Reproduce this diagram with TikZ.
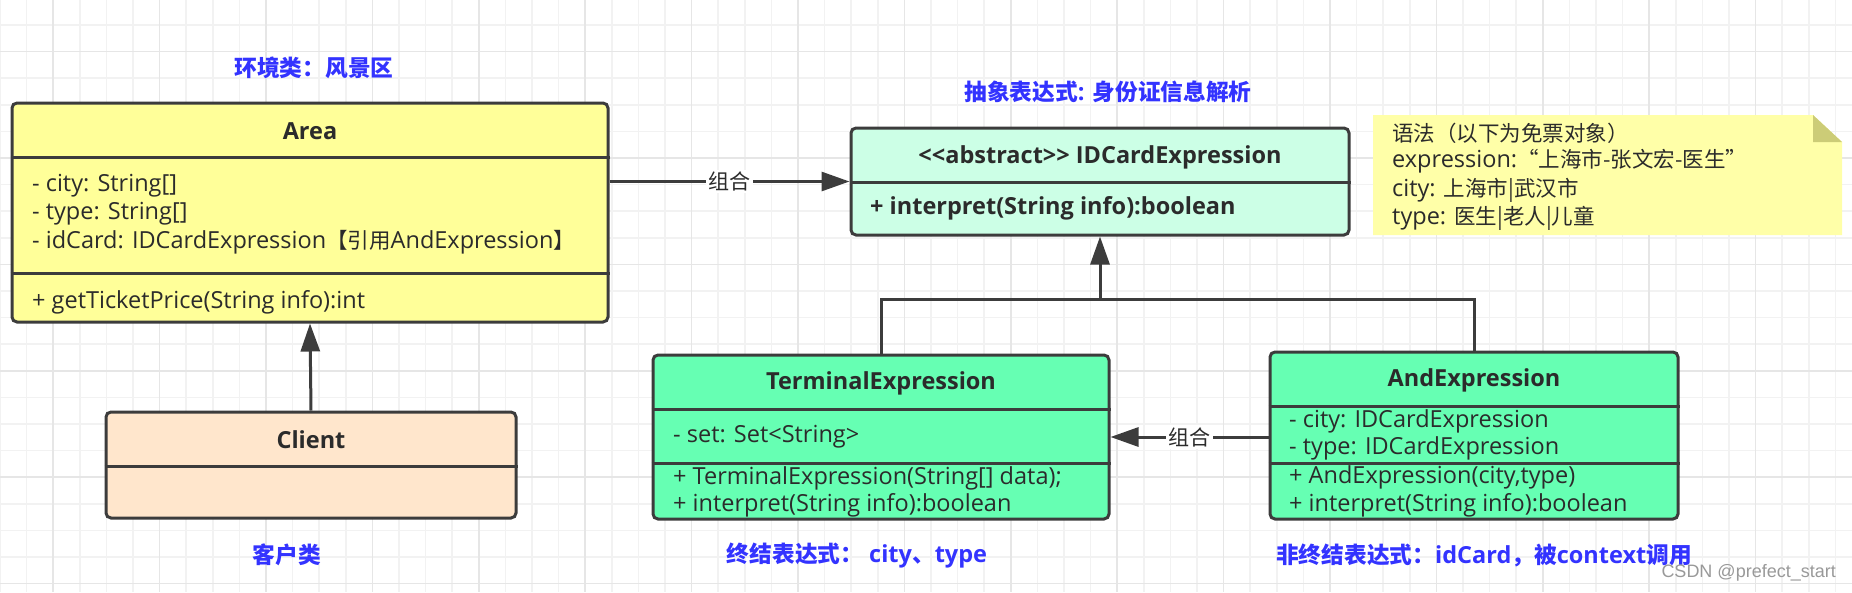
\documentclass[tikz,border=0pt]{standalone}
\usepackage{fontspec}
\setmainfont{Open Sans}
\newfontfamily\cjk{Noto Sans CJK SC}[Scale=0.915]
\newfontfamily\cjkb{Noto Sans CJK SC}[Scale=0.966]
\newfontfamily\wmfont{Liberation Sans}
\newcommand\zh[1]{{\cjk #1}}
\newcommand\en[1]{{\rmfamily #1}}
\usepackage{tikz}
\usetikzlibrary{arrows.meta,
                positioning}

\definecolor{areafill}{HTML}{FFFF99}
\definecolor{clientfill}{HTML}{FFE6CC}
\definecolor{abstractfill}{HTML}{CCFFE6}
\definecolor{exprfill}{HTML}{66FFB3}
\definecolor{notefill}{HTML}{FFFFA8}
\definecolor{foldfill}{HTML}{CCCC77}
\definecolor{edgegray}{HTML}{3C3C3C}
\definecolor{textgray}{HTML}{2B2B2B}
\definecolor{labelblue}{HTML}{3333FF}
\definecolor{gridminor}{HTML}{F2F2F2}
\definecolor{gridmajor}{HTML}{E6E6E6}

\begin{document}
\begin{tikzpicture}[x=1pt,y=-1pt,
  classbox/.style={draw=edgegray, line width=3pt, rounded corners=5pt, inner sep=0pt},
  member/.style={anchor=west, inner sep=0pt, text=textgray, font=\fontsize{23.5}{28}\selectfont},
  classname/.style={inner sep=0pt, text=textgray, font=\bfseries\fontsize{23.5}{28}\selectfont},
  bluelabel/.style={inner sep=0pt, text=labelblue, font=\cjkb\bfseries\fontsize{23.5}{28}\selectfont},
  wire/.style={draw=edgegray, line width=3pt},
  link/.style={wire, -{Triangle[length=28pt,width=19pt]}},
  lbl/.style={fill=white, inner sep=2pt, text=textgray, font=\cjk\fontsize{23}{28}\selectfont}]

% background and grid
\useasboundingbox[fill=white] (0,0) rectangle (1852,592);
\foreach \k in {0,...,70}
  \draw[gridminor, line width=1.5pt] ({26.6*\k},0) -- ({26.6*\k},592);
\foreach \k in {0,...,22}
  \draw[gridminor, line width=1.5pt] (0,{26.6*\k-1.6}) -- (1852,{26.6*\k-1.6});
\foreach \k in {2,6,...,66}
  \draw[gridmajor, line width=1.5pt] ({26.6*\k},0) -- ({26.6*\k},592);
\foreach \k in {2,6,...,22}
  \draw[gridmajor, line width=1.5pt] (0,{26.6*\k-1.6}) -- (1852,{26.6*\k-1.6});

% Area
\node[classbox, fill=areafill, minimum width=596pt, minimum height=219pt] (area) at (310,212.5) {};
\draw[wire] (area.west |- 0,157) -- (area.east |- 0,157);
\draw[wire] (area.west |- 0,273) -- (area.east |- 0,273);
\node[classname] (areaname) at (310,131) {Area};
\foreach \t [count=\i] in {{- city: String[]},{- type: String[]},{- idCard: IDCardExpression\zh{【引用}AndExpression\zh{】}}}
  \node[member] (areaattr\i) at (32,{157+28.5*\i}) {\t};
\node[member] (areaop) at (32,302) {+ getTicketPrice(String info):int};
\node[bluelabel] (areanote) at (314,68) {环境类：风景区};

% Client
\node[classbox, fill=clientfill, minimum width=410pt, minimum height=106pt] (client) at (311,465) {};
\draw[wire] (client.west |- 0,466) -- (client.east |- 0,466);
\node[classname] (clientname) at (311,440) {Client};
\node[bluelabel] (clientnote) at (287,555) {客户类};

% IDCardExpression
\node[classbox, fill=abstractfill, minimum width=498pt, minimum height=107pt] (idcard) at (1100,181.5) {};
\draw[wire] (idcard.west |- 0,182) -- (idcard.east |- 0,182);
\node[classname] (idcardname) at (1100,157) {<{}<abstract>{}> IDCardExpression};
\node[member, font=\bfseries\fontsize{23.5}{28}\selectfont] (idcardop) at (870,208) {+ interpret(String info):boolean};
\node[bluelabel] (idcardnote) at (1108,92) {抽象表达式\en{: }身份证信息解析};

% grammar note
\fill[notefill] (1373,115) -- (1813,115) -- (1842,142) -- (1842,235) -- (1373,235) -- cycle;
\fill[foldfill] (1813,115) -- (1842,142) -- (1813,142) -- cycle;
\foreach \t [count=\i] in {{\zh{语法（以下为免票对象）}},{expression:\zh{“上海市-张文宏-医生”}},{city: \zh{上海市|武汉市}},{type: \zh{医生|老人|儿童}}}
  \node[member] (grammar\i) at (1392,{104.5+28.5*\i}) {\t};

% TerminalExpression
\node[classbox, fill=exprfill, minimum width=456pt, minimum height=164pt] (terminal) at (881,437) {};
\draw[wire] (terminal.west |- 0,409) -- (terminal.east |- 0,409);
\draw[wire] (terminal.west |- 0,463) -- (terminal.east |- 0,463);
\node[classname] (terminalname) at (881,383) {TerminalExpression};
\node[member] (terminalattr) at (673,437) {- set: Set<String>};
\node[member] (terminalop1) at (673,478) {+ TerminalExpression(String[] data);};
\node[member] (terminalop2) at (673,505) {+ interpret(String info):boolean};
\node[bluelabel] (terminalnote) at (857,556) {终结表达式：\en{ city}、\en{type}};

% AndExpression
\node[classbox, fill=exprfill, minimum width=408pt, minimum height=167pt] (andexpr) at (1474,435.5) {};
\draw[wire] (andexpr.west |- 0,406) -- (andexpr.east |- 0,406);
\draw[wire] (andexpr.west |- 0,463) -- (andexpr.east |- 0,463);
\node[classname] (andexprname) at (1474,380) {AndExpression};
\foreach \t [count=\i] in {{- city: IDCardExpression},{- type: IDCardExpression}}
  \node[member] (andexprattr\i) at (1289,{394+27*\i}) {\t};
\node[member] (andexprop1) at (1289,477) {+ AndExpression(city,type)};
\node[member] (andexprop2) at (1289,505) {+ interpret(String info):boolean};
\node[bluelabel] (andexprnote) at (1484,555) {非终结表达式：\en{idCard}，被\en{context}调用};

% connectors
\draw[link] (idcard.west -| area.east) -- node[lbl] (combine1) {组合} (idcard.west);
\draw[link] (client.north) -- (area.south);
\draw[link] (andexpr.west |- terminal.east) -- node[lbl] (combine2) {组合} (terminal.east);
\coordinate (joint) at (idcard.south |- 0,299);
\draw[wire] (terminal.north) |- (joint) -| (andexpr.north);
\draw[link] (joint) -- (idcard.south);

\node[anchor=east, inner sep=0pt, text=black!40, font=\wmfont\fontsize{18}{22}\selectfont] (watermark) at (1836,573) {CSDN @prefect\_start};
\end{tikzpicture}
\end{document}
